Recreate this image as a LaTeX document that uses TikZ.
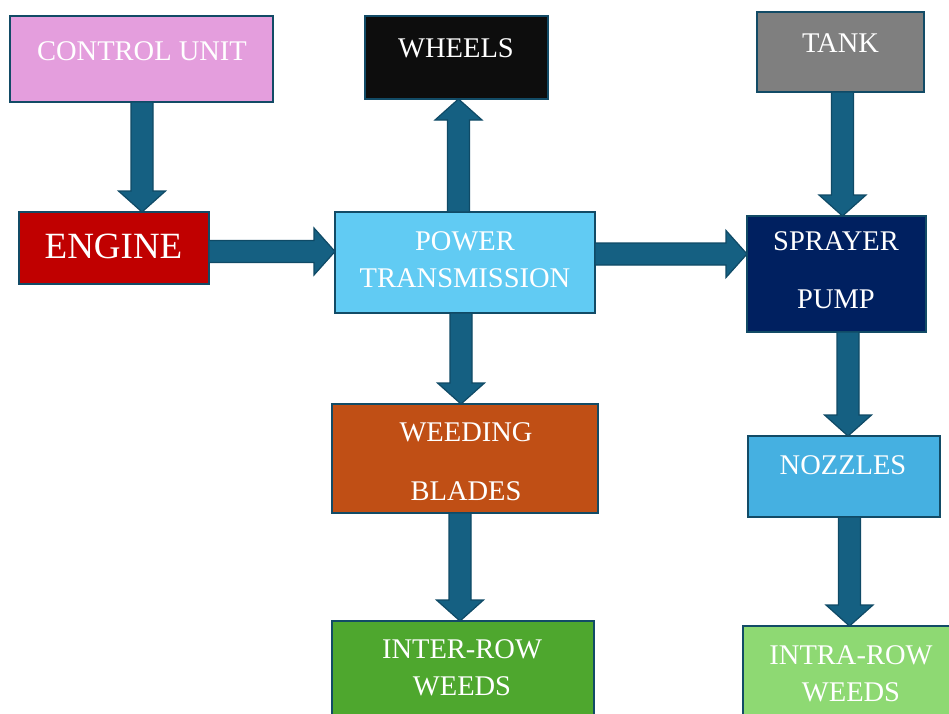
\documentclass[tikz,border=0pt]{standalone}
\usepackage{fontspec}
\setmainfont{Liberation Serif}
\usetikzlibrary{calc}
\definecolor{boxline}{HTML}{124B66}
\definecolor{arrowfill}{HTML}{156082}
\definecolor{arrowline}{HTML}{0F4A66}
\definecolor{cuc}{HTML}{E49EDD}
\definecolor{engc}{HTML}{C00000}
\definecolor{whc}{HTML}{0D0D0D}
\definecolor{ptc}{HTML}{61CBF3}
\definecolor{tankc}{HTML}{7F7F7F}
\definecolor{spc}{HTML}{002060}
\definecolor{wbc}{HTML}{C04F15}
\definecolor{interc}{HTML}{4EA72E}
\definecolor{nozc}{HTML}{45B0E1}
\definecolor{intrac}{HTML}{8ED973}
\newcommand{\arrdown}[3]{%
  \path[blockarrow] let \p1=(#1.south), \p2=(#2.north) in
    ({#3*1pt-11pt},{\y1}) -- ({#3*1pt+11pt},{\y1}) -- ({#3*1pt+11pt},{\y2+21pt})
    -- ({#3*1pt+23.5pt},{\y2+21pt}) -- ({#3*1pt},{\y2}) -- ({#3*1pt-23.5pt},{\y2+21pt})
    -- ({#3*1pt-11pt},{\y2+21pt}) -- cycle;}
\newcommand{\arrup}[3]{%
  \path[blockarrow] let \p1=(#1.north), \p2=(#2.south) in
    ({#3*1pt-11pt},{\y1}) -- ({#3*1pt+11pt},{\y1}) -- ({#3*1pt+11pt},{\y2-21pt})
    -- ({#3*1pt+23.5pt},{\y2-21pt}) -- ({#3*1pt},{\y2}) -- ({#3*1pt-23.5pt},{\y2-21pt})
    -- ({#3*1pt-11pt},{\y2-21pt}) -- cycle;}
\newcommand{\arrright}[3]{%
  \path[blockarrow] let \p1=(#1.east), \p2=(#2.west) in
    ({\x1},{#3*1pt+11pt}) -- ({\x1},{#3*1pt-11pt}) -- ({\x2-21pt},{#3*1pt-11pt})
    -- ({\x2-21pt},{#3*1pt-23.5pt}) -- ({\x2},{#3*1pt}) -- ({\x2-21pt},{#3*1pt+23.5pt})
    -- ({\x2-21pt},{#3*1pt+11pt}) -- cycle;}
\begin{document}
\begin{tikzpicture}[x=1pt,y=1pt,
  box/.style={draw=boxline, line width=1.8pt, inner sep=0pt, outer sep=0pt},
  lbl/.style={text=white, anchor=base, inner sep=0pt, font=\fontsize{28.5}{33}\selectfont},
  biglbl/.style={text=white, anchor=base, inner sep=0pt, font=\fontsize{37}{42}\selectfont},
  blockarrow/.style={fill=arrowfill, draw=arrowline, line width=1.2pt, line join=miter}]
\useasboundingbox (0,0) rectangle (949,-713);
\clip (0,0) rectangle (949,-713);
% boxes
\node[box, fill=cuc, minimum width=263pt, minimum height=86pt] (cu) at (141.5,-59) {};
\node[box, fill=engc, minimum width=190pt, minimum height=72pt] (eng) at (114,-248) {};
\node[box, fill=whc, minimum width=183pt, minimum height=83pt] (wh) at (456.5,-57.5) {};
\node[box, fill=ptc, minimum width=260pt, minimum height=101pt] (pt) at (465,-262.5) {};
\node[box, fill=tankc, minimum width=167pt, minimum height=80pt] (tank) at (840.5,-52) {};
\node[box, fill=spc, minimum width=179pt, minimum height=116pt] (sp) at (836.5,-274) {};
\node[box, fill=wbc, minimum width=266pt, minimum height=109pt] (wb) at (465,-458.5) {};
\node[box, fill=interc, minimum width=262pt, minimum height=119pt] (inter) at (463,-680.5) {};
\node[box, fill=nozc, minimum width=192pt, minimum height=81pt] (noz) at (844,-476.5) {};
\node[box, fill=intrac, minimum width=217pt, minimum height=114pt] (intra) at (851.5,-683) {};
% labels
\node[lbl] (cut) at (142,-60) {CONTROL UNIT};
\node[biglbl] (engt) at (113.5,-258) {ENGINE};
\node[lbl] (wht) at (456,-57) {WHEELS};
\node[lbl] (ptt1) at (465,-250) {POWER};
\node[lbl] (ptt2) at (465,-287) {TRANSMISSION};
\node[lbl] (tankt) at (840.5,-52.5) {TANK};
\node[lbl] (spt1) at (836,-250.5) {SPRAYER};
\node[lbl] (spt2) at (836,-308) {PUMP};
\node[lbl] (wbt1) at (466,-441.5) {WEEDING};
\node[lbl] (wbt2) at (466,-500) {BLADES};
\node[lbl] (intert1) at (462,-658) {INTER-ROW};
\node[lbl] (intert2) at (462,-695) {WEEDS};
\node[lbl] (nozt) at (843,-474) {NOZZLES};
\node[lbl] (intrat1) at (851,-664) {INTRA-ROW};
\node[lbl] (intrat2) at (851,-701.5) {WEEDS};
% arrows
\arrdown{cu}{eng}{142}
\arrright{eng}{pt}{-251.5}
\arrup{pt}{wh}{458.5}
\arrright{pt}{sp}{-254}
\arrdown{tank}{sp}{842.5}
\arrdown{pt}{wb}{461}
\arrdown{wb}{inter}{460}
\arrdown{sp}{noz}{848}
\arrdown{noz}{intra}{849.5}
\end{tikzpicture}
\end{document}
